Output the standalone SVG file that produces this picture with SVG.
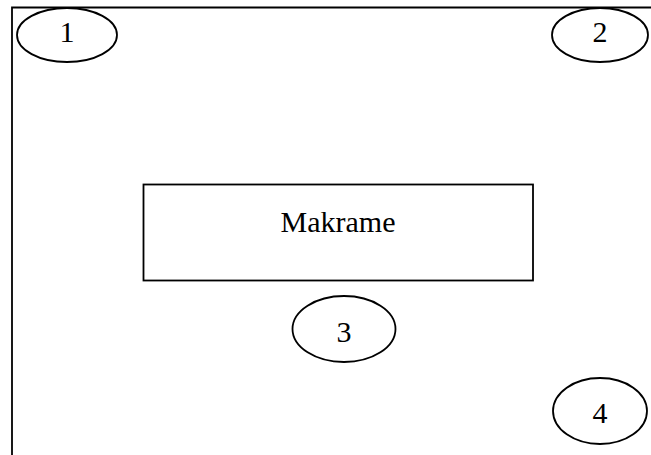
<svg xmlns="http://www.w3.org/2000/svg" width="651" height="455" viewBox="0 0 651 455">
  <style>
    .shape { fill: #ffffff; stroke: #000000; stroke-width: 1.8; }
    .frame { fill: none; stroke: #000000; stroke-width: 1.8; }
    .label { font-family: "Liberation Serif", "Times New Roman", serif; font-size: 30px; fill: #000000; text-anchor: middle; dominant-baseline: central; }
  </style>
  <rect width="651" height="455" fill="#ffffff"/>
  <!-- outer frame, open to the right and bottom -->
  <path class="frame" d="M12 455 V7.5 H651"/>
  <g id="node-1">
    <ellipse class="shape" cx="67" cy="35" rx="50" ry="27"/>
    <text class="label" x="67" y="31">1</text>
  </g>
  <g id="node-2">
    <ellipse class="shape" cx="600" cy="35" rx="48" ry="27"/>
    <text class="label" x="600" y="31">2</text>
  </g>
  <g id="node-makrame">
    <rect class="shape" x="143.5" y="184.5" width="389.5" height="96"/>
    <text class="label" x="338" y="221">Makrame</text>
  </g>
  <g id="node-3">
    <ellipse class="shape" cx="344" cy="329" rx="51.5" ry="33"/>
    <text class="label" x="344" y="331">3</text>
  </g>
  <g id="node-4">
    <ellipse class="shape" cx="600" cy="411" rx="47" ry="33"/>
    <text class="label" x="600" y="412">4</text>
  </g>
  <g id="connectors"></g>
</svg>
